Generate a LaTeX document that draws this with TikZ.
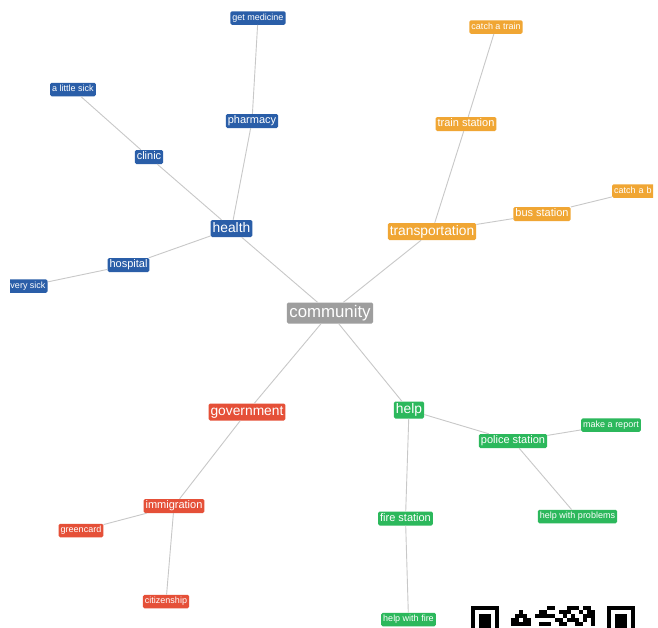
\documentclass[tikz,border=0pt]{standalone}
\usepackage{fontspec}
\setmainfont{Liberation Sans}
\definecolor{cblue}{RGB}{42,94,168}
\definecolor{corange}{RGB}{240,166,52}
\definecolor{cred}{RGB}{229,80,56}
\definecolor{cgreen}{RGB}{44,184,92}
\definecolor{cgray}{RGB}{158,158,158}
\definecolor{cedge}{RGB}{200,200,200}
\tikzset{
  box/.style={text=white, rounded corners=1.5pt, inner xsep=2pt, inner ysep=0pt, anchor=center},
  leaf/.style={box, font=\fontsize{9}{9}\selectfont, minimum height=13.5pt, text height=6.6pt, text depth=1.9pt},
  mid/.style={box, font=\fontsize{11}{11}\selectfont, minimum height=14pt, text height=8.1pt, text depth=2.4pt},
  topn/.style={box, font=\fontsize{13.8}{14}\selectfont, minimum height=17pt, text height=10.1pt, text depth=3pt},
  root/.style={box, font=\fontsize{16.8}{17}\selectfont, minimum height=21pt, fill=cgray, inner xsep=2.5pt, text height=12.3pt, text depth=3.6pt},
  conn/.style={draw=cedge, line width=0.9pt},
  qrmod/.style={fill=black},
}
\begin{document}
\begin{tikzpicture}[x=1pt,y=-1pt]
\useasboundingbox (0,0) rectangle (658,627);
\fill[white] (0,0) rectangle (658,627);
\begin{scope}
\clip (10,0) rectangle (653,627);
% nodes
\node[root] (community) at (330,313) {community};
\node[topn,fill=cblue] (health) at (231.5,228.5) {health};
\node[mid,fill=cblue] (clinic) at (149,157) {clinic};
\node[leaf,fill=cblue] (alittle) at (73,89.5) {a little sick};
\node[mid,fill=cblue] (pharmacy) at (252,121) {pharmacy};
\node[leaf,fill=cblue] (getmed) at (258,18) {get medicine};
\node[mid,fill=cblue] (hospital) at (128.5,265) {hospital};
\node[leaf,fill=cblue] (verysick) at (28,286) {very sick};
\node[topn,fill=corange] (transport) at (432,231.5) {transportation};
\node[mid,fill=corange] (train) at (466,124) {train station};
\node[leaf,fill=corange] (catchtrain) at (496,27) {catch a train};
\node[mid,fill=corange] (bus) at (542,214) {bus station};
\node[leaf,fill=corange,anchor=west,text width=44pt,align=left] (catchbus) at (612,191) {catch a b};
\node[topn,fill=cred] (gov) at (247,412) {government};
\node[mid,fill=cred] (immig) at (174,506) {immigration};
\node[leaf,fill=cred] (green) at (81,530.5) {greencard};
\node[leaf,fill=cred] (citizen) at (166,601.5) {citizenship};
\node[topn,fill=cgreen] (help) at (409,410) {help};
\node[mid,fill=cgreen] (police) at (513,441) {police station};
\node[leaf,fill=cgreen] (report) at (611,425) {make a report};
\node[leaf,fill=cgreen] (problems) at (577.5,516.5) {help with problems};
\node[mid,fill=cgreen] (fire) at (405.5,518.5) {fire station};
\node[leaf,fill=cgreen] (helpfire) at (408.5,619.5) {help with fire};
% connectors
\draw[conn] (community) -- (health);
\draw[conn] (community) -- (transport);
\draw[conn] (community) -- (gov);
\draw[conn] (community) -- (help);
\draw[conn] (health) -- (clinic);
\draw[conn] (health) -- (pharmacy);
\draw[conn] (health) -- (hospital);
\draw[conn] (clinic) -- (alittle);
\draw[conn] (pharmacy) -- (getmed);
\draw[conn] (hospital) -- (verysick);
\draw[conn] (transport) -- (train);
\draw[conn] (transport) -- (bus);
\draw[conn] (train) -- (catchtrain);
\draw[conn] (bus) -- (catchbus);
\draw[conn] (gov) -- (immig);
\draw[conn] (immig) -- (green);
\draw[conn] (immig) -- (citizen);
\draw[conn] (help) -- (police);
\draw[conn] (help) -- (fire);
\draw[conn] (police) -- (report);
\draw[conn] (police) -- (problems);
\draw[conn] (fire) -- (helpfire);
% partial QR code
\fill[black] (471,606) rectangle (499,630);
\fill[white] (475,610) rectangle (495,630);
\fill[black] (479,614) rectangle (491,630);
\fill[black] (607,606) rectangle (635,630);
\fill[white] (611,610) rectangle (631,630);
\fill[black] (615,614) rectangle (627,630);
\foreach \c/\r in {11/0,12/0,16/0,17/0,18/0,20/0,21/0,
                   4/1,9/1,10/1,14/1,15/1,16/1,19/1,21/1,22/1,
                   3/2,4/2,5/2,8/2,9/2,10/2,11/2,12/2,15/2,17/2,20/2,21/2,22/2,
                   2/3,3/3,5/3,6/3,13/3,14/3,16/3,17/3,18/3,20/3,22/3,
                   2/4,3/4,4/4,5/4,6/4,9/4,10/4,11/4,14/4,15/4,18/4,19/4,22/4}
  \fill[qrmod] ({503+4*\c},{606+4*\r}) rectangle ({507+4*\c},{610+4*\r});
\end{scope}
\end{tikzpicture}
\end{document}
